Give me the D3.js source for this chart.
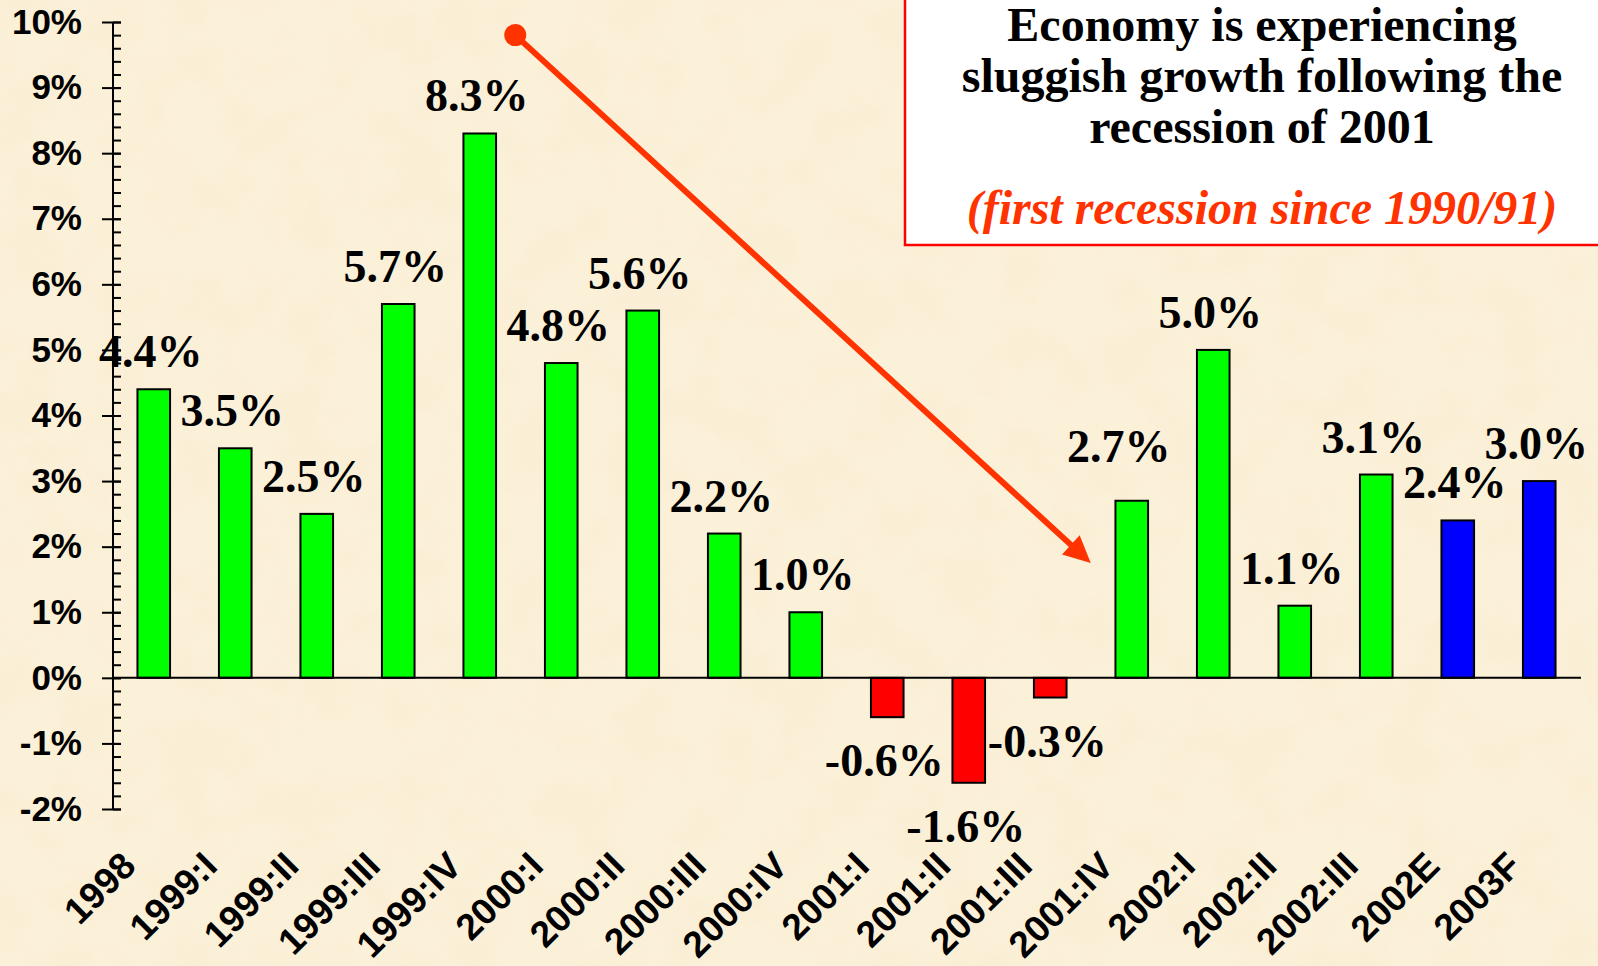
<!DOCTYPE html>
<html>
<head>
<meta charset="utf-8">
<script src="https://cdn.jsdelivr.net/npm/d3@7"></script>
<style>
  html, body { margin: 0; padding: 0; background: #fbf0d8; }
  svg { display: block; }
</style>
</head>
<body>
<div id="chart"></div>
<script>
const width = 1598;
const height = 966;

// quarters / years on the x axis
const categories = ["1998", "1999:I", "1999:II", "1999:III", "1999:IV", "2000:I", "2000:II",
  "2000:III", "2000:IV", "2001:I", "2001:II", "2001:III", "2001:IV", "2002:I", "2002:II",
  "2002:III", "2002E", "2003F"];
// real GDP growth, percent
const values = [4.4, 3.5, 2.5, 5.7, 8.3, 4.8, 5.6, 2.2, 1.0, -0.6, -1.6, -0.3, 2.7, 5.0, 1.1, 3.1, 2.4, 3.0];
// actual or projected
const kinds = ["actual", "actual", "actual", "actual", "actual", "actual", "actual", "actual",
  "actual", "actual", "actual", "actual", "actual", "actual", "actual", "actual", "estimate", "forecast"];
const yTicks = [-2, -1, 0, 1, 2, 3, 4, 5, 6, 7, 8, 9, 10];

const titleLines = ["Economy is experiencing", "sluggish growth following the", "recession of 2001"];
const noteLine = "(first recession since 1990/91)";

const data = categories.map((c, i) => ({ cat: c, value: values[i], kind: kinds[i] }));

const svg = d3.select("#chart").append("svg")
  .attr("width", width)
  .attr("height", height);

// parchment background
const defs = svg.append("defs");
const paper = defs.append("filter").attr("id", "paper")
  .attr("x", 0).attr("y", 0).attr("width", "100%").attr("height", "100%");
paper.append("feTurbulence")
  .attr("type", "fractalNoise")
  .attr("baseFrequency", 0.018)
  .attr("numOctaves", 4)
  .attr("seed", 7);
paper.append("feColorMatrix")
  .attr("type", "matrix")
  .attr("values", "0 0 0 0 0.93  0 0 0 0 0.84  0 0 0 0 0.62  1.4 0 0 0 -0.62");

svg.append("rect").attr("width", width).attr("height", height).attr("fill", "#fbf0d8");
svg.append("rect").attr("width", width).attr("height", height)
  .attr("filter", "url(#paper)").attr("opacity", 0.6);

const x = d3.scaleBand()
  .domain(categories)
  .range([113, 1580])
  .paddingInner(0.6)
  .paddingOuter(0.3);

const y = d3.scaleLinear()
  .domain([-2, 10])
  .range([809, 22]);

const green = "#00ff00", red = "#ff0000", blue = "#0000ff", accent = "#ff3300";

function barColor(d) {
  if (d.kind !== "actual") return blue;
  return d.value < 0 ? red : green;
}

// y axis: minor ticks to the right, major ticks across
svg.append("g")
  .attr("transform", "translate(113,0)")
  .call(d3.axisRight(y).tickValues(d3.range(-2, 10.001, 0.2)).tickSize(8).tickFormat(""))
  .call(g => g.select(".domain").remove())
  .call(g => g.selectAll("line").attr("stroke", "#000").attr("stroke-width", 2));

svg.append("g")
  .attr("transform", "translate(121,0)")
  .call(d3.axisLeft(y).tickValues(yTicks).tickSize(19).tickPadding(20).tickFormat(d => d + "%"))
  .call(g => g.select(".domain").remove())
  .call(g => g.selectAll("line").attr("stroke", "#000").attr("stroke-width", 2))
  .call(g => g.selectAll("text")
    .attr("fill", "#000")
    .style("font-family", "'Liberation Sans', Arial, sans-serif")
    .style("font-weight", "bold")
    .style("font-size", "35px"));

svg.append("line")
  .attr("x1", 113).attr("x2", 113)
  .attr("y1", y(10)).attr("y2", y(-2))
  .attr("stroke", "#000").attr("stroke-width", 2);

// bars
svg.append("g").selectAll("rect")
  .data(data)
  .join("rect")
  .attr("x", d => x(d.cat))
  .attr("width", x.bandwidth())
  .attr("y", d => y(Math.max(0, d.value)))
  .attr("height", d => Math.abs(y(d.value) - y(0)))
  .attr("fill", barColor)
  .attr("stroke", "#000")
  .attr("stroke-width", 2);

// zero line
svg.append("line")
  .attr("x1", 113).attr("x2", 1581)
  .attr("y1", y(0)).attr("y2", y(0))
  .attr("stroke", "#000").attr("stroke-width", 2);

// value labels
svg.append("g").selectAll("text")
  .data(data)
  .join("text")
  .attr("x", d => x(d.cat) + x.bandwidth() / 2 - 3 + (d.cat === "2001:IV" ? -10 : 0))
  .attr("y", d => d.value < 0 ? y(d.value) + 59 : y(d.value) - 22 + (d.cat === "2001:IV" ? -17 : 0))
  .attr("text-anchor", "middle")
  .style("font-family", "'Liberation Serif', 'Times New Roman', serif")
  .style("font-weight", "bold")
  .style("font-size", "46px")
  .attr("fill", "#000")
  .text(d => d.value.toFixed(1) + "%");

// x axis labels, rotated
svg.append("g")
  .attr("transform", "translate(0,868)")
  .call(d3.axisBottom(x).tickSize(0))
  .call(g => g.select(".domain").remove())
  .call(g => g.selectAll("text")
    .attr("x", 0).attr("y", 0).attr("dy", 0)
    .attr("transform", "translate(-16,0) rotate(-45)")
    .attr("text-anchor", "end")
    .attr("fill", "#000")
    .style("font-family", "'Liberation Sans', Arial, sans-serif")
    .style("font-weight", "bold")
    .style("font-size", "37px"));

// arrow annotation
const ax0 = x("2000:I") + x.bandwidth() / 2 - 46, ay0 = y(9.8);
const ax1 = x("2001:IV") + x.bandwidth() / 2 - 41, ay1 = y(1.75);
const ang = Math.atan2(ay1 - ay0, ax1 - ax0);
const headLen = 27, headHalf = 13;
const bx = ax1 - headLen * Math.cos(ang), by = ay1 - headLen * Math.sin(ang);
svg.append("line")
  .attr("x1", ax0).attr("y1", ay0)
  .attr("x2", bx + 2 * Math.cos(ang)).attr("y2", by + 2 * Math.sin(ang))
  .attr("stroke", accent).attr("stroke-width", 6);
svg.append("path")
  .attr("d", d3.line()([
    [ax1, ay1],
    [bx - headHalf * Math.sin(ang), by + headHalf * Math.cos(ang)],
    [bx + headHalf * Math.sin(ang), by - headHalf * Math.cos(ang)]
  ]) + "Z")
  .attr("fill", accent);
svg.append("circle")
  .attr("cx", ax0).attr("cy", ay0).attr("r", 11)
  .attr("fill", accent);

// text box
svg.append("rect")
  .attr("x", 905).attr("y", -10)
  .attr("width", 720).attr("height", 255)
  .attr("fill", "#fff")
  .attr("stroke", "#ff0000").attr("stroke-width", 2.5);

svg.append("g").selectAll("text")
  .data(titleLines)
  .join("text")
  .attr("x", 1262)
  .attr("y", (d, i) => 41 + i * 51)
  .attr("text-anchor", "middle")
  .style("font-family", "'Liberation Serif', 'Times New Roman', serif")
  .style("font-weight", "bold")
  .style("font-size", "48px")
  .attr("fill", "#000")
  .text(d => d);

svg.append("text")
  .attr("x", 1262).attr("y", 224)
  .attr("text-anchor", "middle")
  .style("font-family", "'Liberation Serif', 'Times New Roman', serif")
  .style("font-weight", "bold")
  .style("font-style", "italic")
  .style("font-size", "48px")
  .attr("fill", accent)
  .text(noteLine);
</script>
</body>
</html>
